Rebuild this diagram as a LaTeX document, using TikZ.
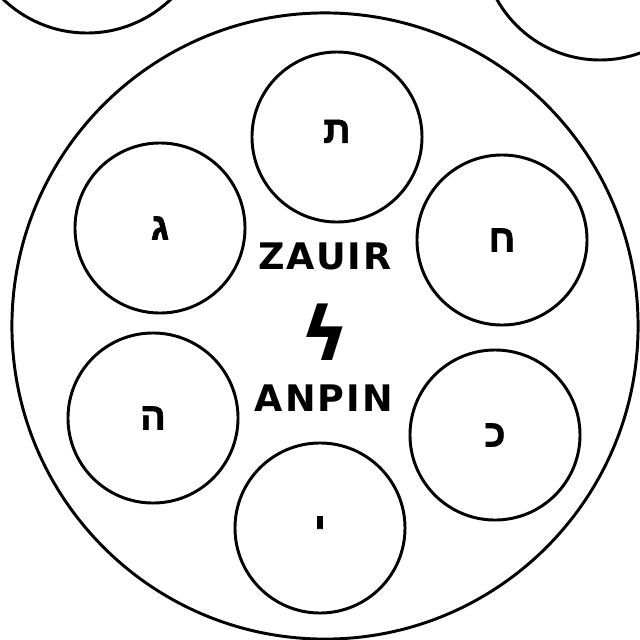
\documentclass[tikz,border=0pt]{standalone}
\usepackage{fontspec}
\usetikzlibrary{positioning}
\newfontfamily\hebfont[Script=Hebrew,FakeBold=1.5]{Liberation Sans Bold}
\newfontfamily\capfont[LetterSpace=6]{DejaVu Sans}
\newfontfamily\boltfont{DejaVu Sans Bold}
\TeXXeTstate=1
\newcommand{\heb}[1]{{\hebfont\beginR #1\endR}}
\tikzset{ring/.style={draw,circle,line width=2.1pt,minimum size=4.25cm,inner sep=0pt,
   font=\fontsize{27}{27}\selectfont},
 big/.style={draw,circle,line width=2.1pt,minimum size=15.65cm,inner sep=0pt},
 title/.style={font=\capfont\bfseries\fontsize{26}{26}\selectfont,inner sep=0pt},
 bolt/.style={font=\boltfont\fontsize{53}{53}\selectfont,inner sep=0pt},
 rim/.style={line width=2.1pt}}

\begin{document}
\begin{tikzpicture}[x=0.025cm,y=-0.025cm]
\useasboundingbox (0,0) rectangle (640,640);
\clip (0,0) rectangle (640,640);
% the two neighbours, cut by the frame
\draw[rim] (87,-88) circle[radius=121];
\draw[rim] (600,-58) circle[radius=118];
% the whole
\node[big] (za) at (325,326) {};
\node[ring] (tav) at (337,137) {\raisebox{8pt}{\heb{ת}}};
\node[ring] (gimel) at (160,228) {\heb{ג}};
\node[ring] (het) at (502,240) {\heb{ח}};
\node[ring] (he) at (153,418) {\heb{ה}};
\node[ring] (kaf) at (495,435) {\heb{כ}};
\node[ring] (yod) at (320,528) {\heb{י}};
\node[title] (zauir) at (325,256) {ZAUIR};
\node[bolt] (amp) at (325,332) {ϟ};
\node[title] (anpin) at (324,398) {ANPIN};
\end{tikzpicture}
\end{document}
